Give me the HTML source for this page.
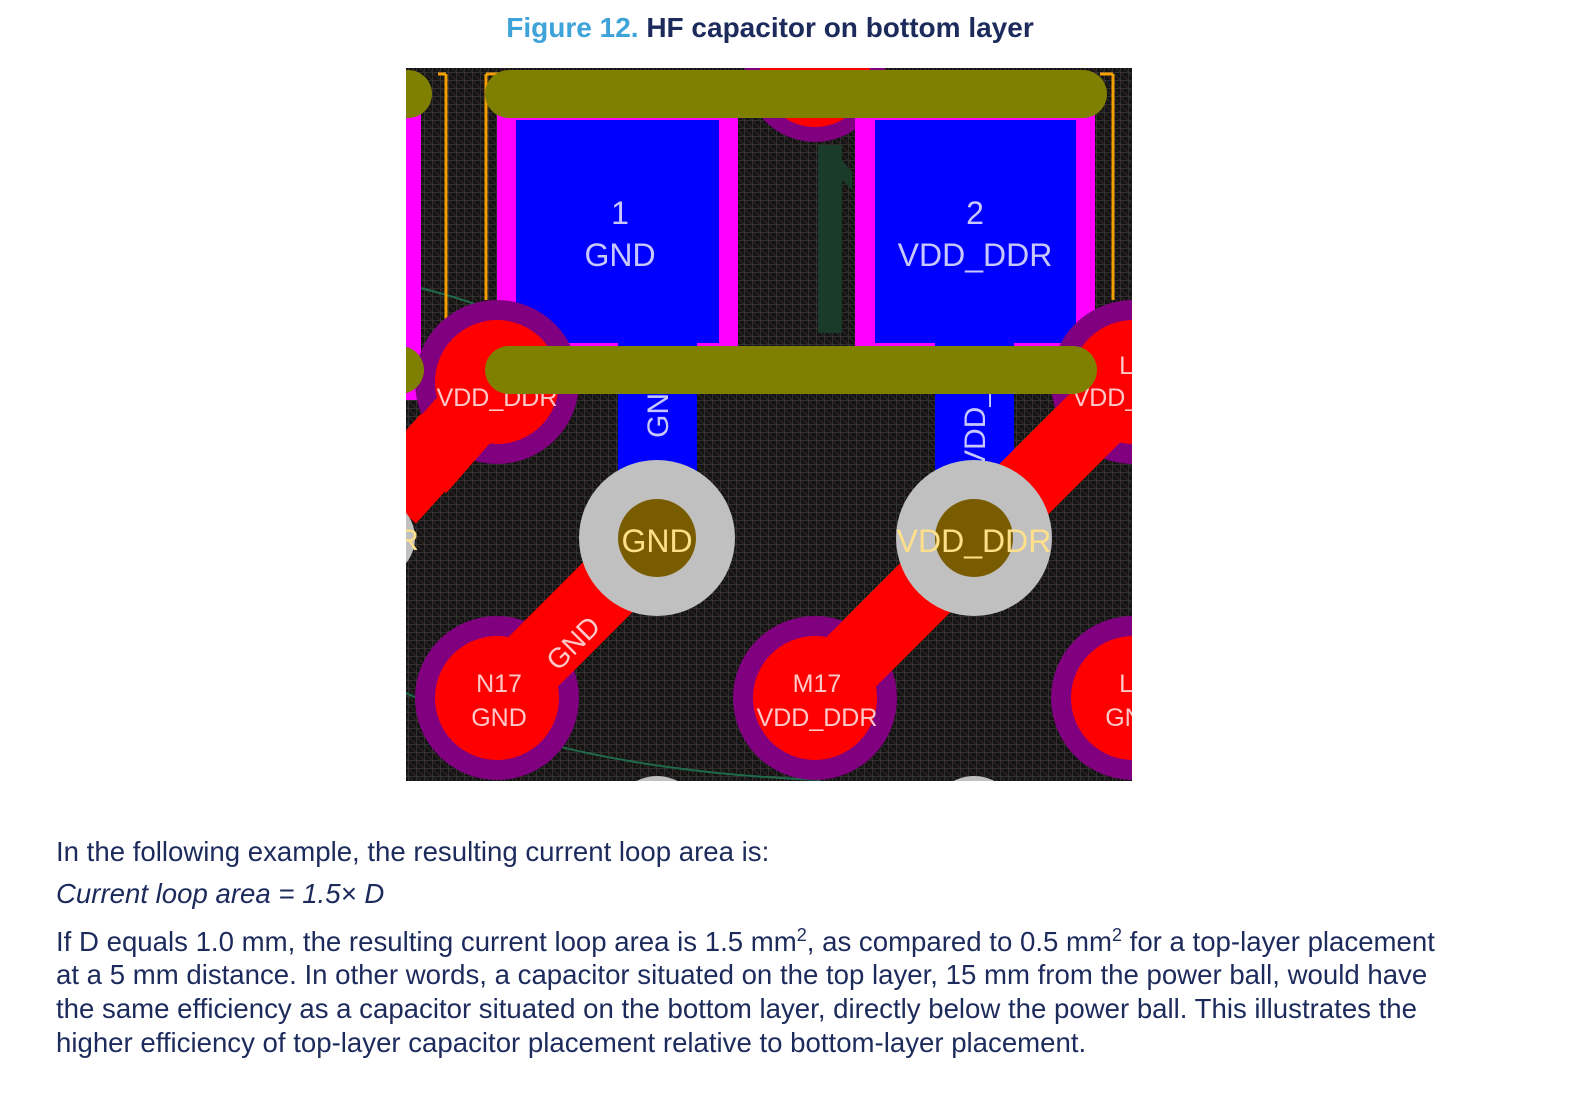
<!DOCTYPE html>
<html><head><meta charset="utf-8"><style>
body{margin:0;width:1594px;height:1097px;background:#fff;position:relative;overflow:hidden;font-family:"Liberation Sans",Arial,sans-serif;color:#1c2a5c}
.t{position:absolute;white-space:nowrap;font-size:27.6px}
</style></head><body>
<div class="t" style="left:0;width:1540px;text-align:center;top:12px;font-size:28px;font-weight:bold"><span style="color:#3ea3d9">Figure 12.</span> HF capacitor on bottom layer</div>
<svg style="position:absolute;left:0;top:0" width="1594" height="1097" font-family="Liberation Sans, Arial, sans-serif">
<defs>
<pattern id="g" width="8" height="8" patternUnits="userSpaceOnUse">
<rect width="8" height="8" fill="#141414"/>
<path d="M0 0H8M0 0V8" stroke="#4a4a4a" stroke-width="1"/>
<path d="M0 0L8 8" stroke="#3a2a2a" stroke-width="0.8"/>
</pattern>
<clipPath id="c"><rect x="406" y="68" width="726" height="713"/></clipPath>
</defs>
<g clip-path="url(#c)">
<rect x="406" y="68" width="726" height="713" fill="url(#g)"/>
<path d="M400 690 Q560 770 820 780" stroke="#1f6a4a" stroke-width="2" fill="none"/>
<path d="M420 288 Q470 300 510 318" stroke="#1f6a4a" stroke-width="2" fill="none"/>
<path d="M446 74V410M446 74H438M486 74V300M486 74H500M1113 74V300M1113 74H1100" stroke="#f5a000" stroke-width="3" fill="none"/>
<rect x="406" y="100" width="15" height="300" fill="#ff00ff"/>
<circle cx="815" cy="72" r="70" fill="#800080"/>
<circle cx="815" cy="72" r="55" fill="#ff0000"/>
<rect x="497" y="100" width="241" height="252" fill="#ff00ff"/>
<rect x="516" y="120" width="203" height="223" fill="#0000ff"/>
<rect x="855" y="100" width="240" height="252" fill="#ff00ff"/>
<rect x="875" y="120" width="201" height="223" fill="#0000ff"/>
<rect x="818" y="145" width="24" height="188" fill="#1a3a2a"/>
<path d="M842 160L852 172V190L842 180Z" fill="#1a3a2a"/>
<text x="620" y="224" fill="#c8c8ff" font-size="32" text-anchor="middle">1</text>
<text x="620" y="266" fill="#c8c8ff" font-size="32" text-anchor="middle">GND</text>
<text x="975" y="224" fill="#c8c8ff" font-size="32" text-anchor="middle">2</text>
<text x="975" y="266" fill="#c8c8ff" font-size="32" text-anchor="middle">VDD_DDR</text>
<rect x="618" y="343" width="79" height="130" fill="#0000ff"/>
<rect x="935" y="343" width="79" height="130" fill="#0000ff"/>
<text transform="translate(668,438) rotate(-90)" fill="#c8c8ff" font-size="30">GND</text>
<text transform="translate(985,470) rotate(-90)" fill="#c8c8ff" font-size="30">VDD_</text>
<path d="M497 382L390 500M497 698L657 538M815 698L1140 373" stroke="#ff0000" stroke-width="70"/>
<g fill="#800080"><circle cx="497" cy="382" r="82"/><circle cx="1133" cy="382" r="82"/><circle cx="497" cy="698" r="82"/><circle cx="815" cy="698" r="82"/><circle cx="1133" cy="698" r="82"/></g>
<g fill="#ff0000"><circle cx="497" cy="382" r="62"/><circle cx="1133" cy="382" r="62"/><circle cx="497" cy="698" r="62"/><circle cx="815" cy="698" r="62"/><circle cx="1133" cy="698" r="62"/></g>
<path d="M497 382L420 470M497 698L657 538M815 698L1140 373" stroke="#ff0000" stroke-width="70"/>
<g fill="#ffc8c8" font-size="25" text-anchor="middle">
<text x="497" y="406">VDD_DDR</text>
<text x="1133" y="406">VDD_DDR</text>
<text x="1133" y="374">L1</text>
<text x="499" y="692">N17</text><text x="499" y="726">GND</text>
<text x="817" y="692">M17</text><text x="817" y="726">VDD_DDR</text>
<text x="1133" y="692">L1</text><text x="1133" y="726">GND</text>
<text transform="translate(580,650) rotate(-45)" font-size="28">GND</text>
</g>
<circle cx="375" cy="538" r="40" fill="#c0c0c0"/>
<text x="408" y="550" fill="#ffe08a" font-size="30" text-anchor="middle">R</text>
<circle cx="657" cy="538" r="78" fill="#c0c0c0"/>
<circle cx="657" cy="538" r="39" fill="#7a5c00"/>
<text x="657" y="552" fill="#ffe08a" font-size="32" text-anchor="middle">GND</text>
<circle cx="974" cy="538" r="78" fill="#c0c0c0"/>
<circle cx="974" cy="538" r="39" fill="#7a5c00"/>
<text x="974" y="552" fill="#ffe08a" font-size="32" text-anchor="middle">VDD_DDR</text>
<circle cx="657" cy="820" r="44" fill="#c0c0c0"/>
<circle cx="974" cy="820" r="44" fill="#c0c0c0"/>
<g stroke="#808000" stroke-width="48" stroke-linecap="round">
<path d="M509 94H1083"/><path d="M509 370H1073"/>
<path d="M380 94H408"/><path d="M380 370H400"/>
</g>
</g>
</svg>
<div class="t" style="left:56px;top:836px">In the following example, the resulting current loop area is:</div>
<div class="t" style="left:56px;top:878px;font-style:italic">Current loop area = 1.5× D</div>
<div class="t" style="left:56px;top:925px">If D equals 1.0 mm, the resulting current loop area is 1.5 mm<sup style="font-size:18px">2</sup>, as compared to 0.5 mm<sup style="font-size:18px">2</sup> for a top-layer placement</div>
<div class="t" style="left:56px;top:959px">at a 5 mm distance. In other words, a capacitor situated on the top layer, 15 mm from the power ball, would have</div>
<div class="t" style="left:56px;top:993px">the same efficiency as a capacitor situated on the bottom layer, directly below the power ball. This illustrates the</div>
<div class="t" style="left:56px;top:1027px">higher efficiency of top-layer capacitor placement relative to bottom-layer placement.</div>
</body></html>
